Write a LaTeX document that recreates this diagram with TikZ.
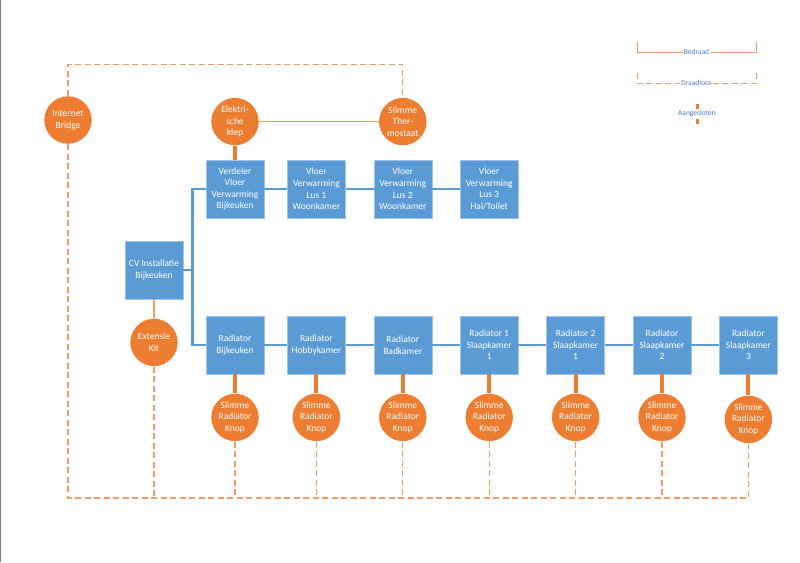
\documentclass[tikz,border=0pt]{standalone}
\usepackage{fontspec}
\setmainfont{Carlito}
\usetikzlibrary{positioning,calc}
\definecolor{boxblue}{HTML}{5B9BD5}
\definecolor{knoporange}{HTML}{ED7D31}
\definecolor{legendblue}{HTML}{4A7EC4}

\begin{document}
\begin{tikzpicture}[x=1pt,y=-1pt,node distance=23pt,
                    font=\fontsize{9.5}{11.6}\selectfont]
 \tikzstyle{unit}=[rectangle, fill=boxblue, draw=boxblue!60!white, text=white, minimum width=58pt, minimum height=58pt, inner sep=1pt, align=center]
 \tikzstyle{device}=[circle, fill=knoporange, draw=white, text=white, minimum size=48pt, inner sep=0pt, align=center]
 \tikzstyle{pipe}=[draw=boxblue, line width=2.6pt]
 \tikzstyle{plug}=[draw=knoporange, line width=4pt]
 \tikzstyle{wire}=[draw=knoporange!75, line width=1.6pt]
 \tikzstyle{radio}=[draw=knoporange!75, line width=1.3pt, dash pattern=on 6pt off 3.5pt]
 \tikzstyle{legendtext}=[text=legendblue, fill=white, inner sep=1pt, font=\fontsize{7.5}{9}\selectfont]
 \useasboundingbox (0,0) rectangle (800,562);
 \draw[gray] (0.5,0) -- (0.5,562);
  % heating units
  \node[unit] (verdeler) at (235,189) {Verdeler\\Vloer\\Verwarming\\Bijkeuken};
  \node[unit] (lus1) [right=23pt of verdeler] {Vloer\\Verwarming\\Lus 1\\Woonkamer};
  \node[unit] (lus2) [right=28pt of lus1] {Vloer\\Verwarming\\Lus 2\\Woonkamer};
  \node[unit] (lus3) [right=28pt of lus2] {Vloer\\Verwarming\\Lus 3\\Hal/Toilet};
  \node[unit] (cv) at (154,270) {CV Installatie\\Bijkeuken};
  \node[unit] (radbijk) at (235,345) {Radiator\\Bijkeuken};
  \node[unit] (radhobby) [right=23pt of radbijk] {Radiator\\Hobbykamer};
  \node[unit] (radbad) [right=28pt of radhobby] {Radiator\\Badkamer};
  \node[unit] (radslaapa) [right=28pt of radbad] {Radiator 1\\Slaapkamer\\1};
  \node[unit] (radslaapb) [right=28pt of radslaapa] {Radiator 2\\Slaapkamer\\1};
  \node[unit] (radslaapc) [right=28pt of radslaapb] {Radiator\\Slaapkamer\\2};
  \node[unit] (radslaapd) [right=28pt of radslaapc] {Radiator\\Slaapkamer\\3};
  % smart devices
  \node[device] (bridge) at (68,120) {Internet\\Bridge};
  \node[device] (klep) [above=14pt of verdeler] {Elektri-\\sche\\klep};
  \node[device] (thermo) [above=14pt of lus2] {Slimme\\Ther-\\mostaat};
  \node[device] (extensie) [below=19pt of cv] {Extensie\\Kit};
  \node[device] (knopa) [below=19pt of radbijk] {Slimme\\Radiator\\Knop};
  \node[device] (knopb) [below=19pt of radhobby] {Slimme\\Radiator\\Knop};
  \node[device] (knopc) [below=19pt of radbad] {Slimme\\Radiator\\Knop};
  \node[device] (knopd) [below=19pt of radslaapa] {Slimme\\Radiator\\Knop};
  \node[device] (knope) [below=19pt of radslaapb] {Slimme\\Radiator\\Knop};
  \node[device] (knopf) [below=19pt of radslaapc] {Slimme\\Radiator\\Knop};
  \node[device] (knopg) [below=21pt of radslaapd] {Slimme\\Radiator\\Knop};
  \coordinate (bus) at ($(cv.east)+(9,0)$);
  \coordinate (netleft) at (68,498);
  % pipes
  \draw[pipe] (cv.east) -- (bus);
  \draw[pipe] (verdeler.west) -| (bus) |- (radbijk.west);
  \path (verdeler) edge[pipe] (lus1)
        (lus1) edge[pipe] (lus2)
        (lus2) edge[pipe] (lus3)
        (radbijk) edge[pipe] (radhobby)
        (radhobby) edge[pipe] (radbad)
        (radbad) edge[pipe] (radslaapa)
        (radslaapa) edge[pipe] (radslaapb)
        (radslaapb) edge[pipe] (radslaapc)
        (radslaapc) edge[pipe] (radslaapd);
  % wired
  \path (klep) edge[plug] (verdeler)
        (radbijk) edge[plug] (knopa)
        (radhobby) edge[plug] (knopb)
        (radbad) edge[plug] (knopc)
        (radslaapa) edge[plug] (knopd)
        (radslaapb) edge[plug] (knope)
        (radslaapc) edge[plug] (knopf)
        (radslaapd) edge[plug] (knopg);
  \path (klep) edge[wire] (thermo)
        (cv) edge[wire] (extensie);
  % wireless
  \draw[radio] (bridge.north) -- ++(0,-31) -| (thermo.north);
  \draw[radio] (bridge.south) -- (netleft) -| (knopg.south);
  \foreach \k in {extensie,knopa,knopb,knopc,knopd,knope,knopf}
    \draw[radio] (\k.south) -- (\k.south |- netleft);
  % legend
  \coordinate (bedl) at (637,42);
  \coordinate (bedr) at (756,42);
  \draw[wire, line width=1pt] (bedl) -- ++(0,10) -- node[legendtext] (bedraad) {Bedraad} ($(bedr)+(0,10)$) -- (bedr);
  \coordinate (drdl) at (637,73);
  \coordinate (drdr) at (756,73);
  \draw[radio, line width=1pt] (drdl) -- ++(0,10) -- node[legendtext] (draadloos) {Draadloos} ($(drdr)+(0,10)$) -- (drdr);
  \node[legendtext] (aangesloten) at (697,114) {Aangesloten};
  \draw[plug, line width=3pt] ($(aangesloten.north)+(0,-1)$) -- ++(0,-5);
  \draw[plug, line width=3pt] ($(aangesloten.south)+(0,1)$) -- ++(0,5);
\end{tikzpicture}
\end{document}
